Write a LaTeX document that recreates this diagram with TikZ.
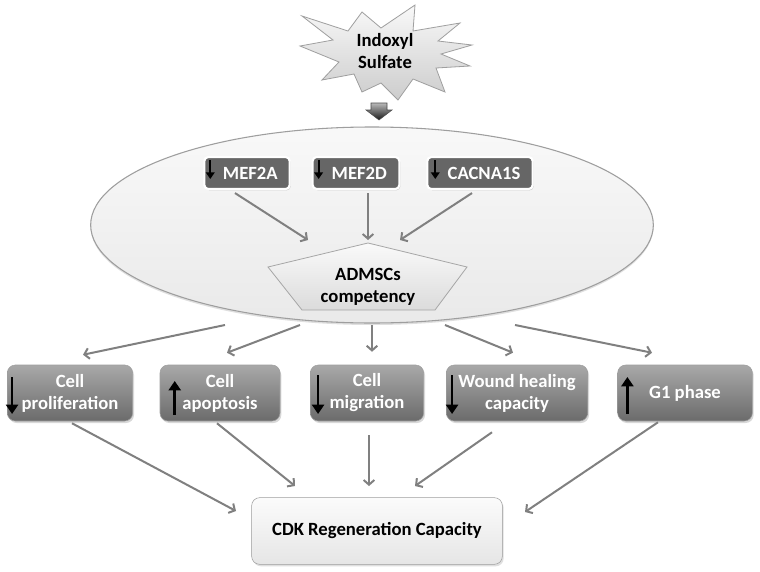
\documentclass[tikz,border=0pt]{standalone}
\usepackage{fontspec}
\setmainfont{Carlito}
\usepackage{tikz}
\usetikzlibrary{positioning}
\usetikzlibrary{arrows.meta}
\usetikzlibrary{shapes.geometric}
\usetikzlibrary{shadows}
\definecolor{arrowGray}{rgb}{0.50,0.50,0.50}
\definecolor{geneGray}{rgb}{0.40,0.40,0.40}
\definecolor{edgeGray}{rgb}{0.62,0.62,0.62}
\definecolor{boxTop}{rgb}{0.66,0.66,0.66}
\definecolor{boxBottom}{rgb}{0.42,0.42,0.42}
\begin{document}
\begin{tikzpicture}[x=0.75pt,y=-0.75pt]

            \tikzstyle{flowArrow} = [draw=arrowGray, line width=1.5pt, -{Straight Barb[length=3.5pt,width=8pt]}];
            \tikzstyle{markArrow} = [draw=black, line width=2pt, -{Triangle[length=7pt,width=9pt]}];
            \tikzstyle{smallMark} = [draw=black, line width=1.5pt, -{Triangle[length=5pt,width=6.5pt]}];
            \tikzstyle{labelFont} = [font=\bfseries\fontsize{14}{16.5}\selectfont];
            \tikzstyle{geneBox} = [labelFont, draw=white, line width=1.6pt, rounded corners=3pt, fill=geneGray, text=white, minimum height=24pt, inner xsep=2pt, drop shadow={opacity=0.35, shadow xshift=0.8pt, shadow yshift=-1pt}];
            \tikzstyle{outcomeBox} = [labelFont, draw=edgeGray, rounded corners=6pt, top color=boxTop, bottom color=boxBottom, text=white, align=center, minimum height=42pt, drop shadow={opacity=0.3, shadow xshift=1pt, shadow yshift=-1.5pt}];

            \path[fill=white] (0,0) rectangle (760,571);
            \useasboundingbox (0,0) rectangle (760,571);

            \path[draw=gray!75, line width=0.6pt, top color=gray!5, bottom color=gray!40]
              (302,16) -- (348,31) -- (362,12) -- (381,28) -- (415,5) -- (413,31)
              -- (460,23) -- (438,41) -- (472,45) -- (441,54) -- (470,66) -- (436,68)
              -- (445,92) -- (413,79) -- (398,100) -- (381,83) -- (362,92) -- (354,74)
              -- (322,80) -- (339,62) -- (300,46) -- (333,40) -- cycle;
            \node[labelFont, align=center] (indoxyl) at (385,51) {Indoxyl\\Sulfate};

            \path[draw=gray!60!black, line width=0.4pt, top color=gray!55, bottom color=gray!20!black]
              (371,103) -- (387,103) -- (387,110) -- (392,110) -- (379,120) -- (366,110) -- (371,110) -- cycle;

            \node[ellipse, draw=edgeGray, line width=0.8pt, top color=gray!5, bottom color=gray!17,
              minimum width=422pt, minimum height=147pt, drop shadow={opacity=0.25, shadow xshift=0pt, shadow yshift=-1.5pt}] (cellEllipse) at (372,225) {};

            \node[geneBox, minimum width=64pt] (mef2a) at (247,173) {\hspace*{5pt}MEF2A};
            \node[geneBox, minimum width=65pt] (mef2d) at (356,173) {\hspace*{5pt}MEF2D};
            \node[geneBox, minimum width=79pt] (cacna) at (480,173) {\hspace*{6pt}CACNA1S};

            \draw[smallMark] ([shift={(7,-13)}]mef2a.west) -- ([shift={(7,6)}]mef2a.west);
            \draw[smallMark] ([shift={(7,-13)}]mef2d.west) -- ([shift={(7,6)}]mef2d.west);
            \draw[smallMark] ([shift={(9,-13)}]cacna.west) -- ([shift={(9,6)}]cacna.west);

            \path[draw=gray!70, line width=0.6pt, top color=gray!4, bottom color=gray!28]
              (368,243) -- (467,267) -- (435,310) -- (302,310) -- (268,267) -- cycle;
            \node[labelFont, align=center] (admsc) at (368,287) {ADMSCs\\competency};

            \coordinate (admscInA) at (308,240);
            \coordinate (admscInB) at (368,240);
            \coordinate (admscInC) at (400,240);
            \draw[flowArrow] ([shift={(-12,3)}]mef2a.south) -- (admscInA);
            \draw[flowArrow] ([shift={(12,3)}]mef2d.south) -- (admscInB);
            \draw[flowArrow] ([shift={(-8,3)}]cacna.south) -- (admscInC);

            \node[outcomeBox, minimum width=94pt] (prolif) at (70,393) {Cell\\proliferation};
            \node[outcomeBox, minimum width=90pt] (apopt) at (220,393) {Cell\\apoptosis};
            \node[outcomeBox, minimum width=85pt] (migr) at (367,393) {Cell\\migration};
            \node[outcomeBox, minimum width=106pt] (wound) at (517,393) {Wound healing\\capacity};
            \node[outcomeBox, minimum width=101pt] (gphase) at (685,393) {G1 phase};

            \draw[markArrow] ([shift={(5,-16)}]prolif.west) -- ([shift={(5,21)}]prolif.west);
            \draw[markArrow] ([shift={(15,22)}]apopt.west) -- ([shift={(15,-12)}]apopt.west);
            \draw[markArrow] ([shift={(8,-18)}]migr.west) -- ([shift={(8,21)}]migr.west);
            \draw[markArrow] ([shift={(6,-18)}]wound.west) -- ([shift={(6,21)}]wound.west);
            \draw[markArrow] ([shift={(10,21)}]gphase.west) -- ([shift={(10,-16)}]gphase.west);

            \coordinate (outA) at (225,325);
            \coordinate (outB) at (300,325);
            \coordinate (outC) at (372,325);
            \coordinate (outD) at (445,325);
            \coordinate (outE) at (515,325);
            \draw[flowArrow] (outA) -- ([shift={(13,-10)}]prolif.north);
            \draw[flowArrow] (outB) -- ([shift={(7,-12)}]apopt.north);
            \draw[flowArrow] (outC) -- ([shift={(5,-13)}]migr.north);
            \draw[flowArrow] (outD) -- ([shift={(-4,-12)}]wound.north);
            \draw[flowArrow] (outE) -- ([shift={(-33,-12)}]gphase.north);

            \node[labelFont, draw=edgeGray, rounded corners=6pt, top color=gray!3, bottom color=gray!20,
              minimum width=188pt, minimum height=50pt, drop shadow={opacity=0.25, shadow xshift=1pt, shadow yshift=-1.5pt}] (cdk) at (377,531) {CDK Regeneration Capacity};

            \coordinate (cdkInA) at (236,511);
            \coordinate (cdkInB) at (295,486);
            \coordinate (cdkInC) at (369,486);
            \coordinate (cdkInD) at (415,486);
            \coordinate (cdkInE) at (525,512);
            \draw[flowArrow] ([shift={(2,2)}]prolif.south) -- (cdkInA);
            \draw[flowArrow] ([shift={(-3,2)}]apopt.south) -- (cdkInB);
            \draw[flowArrow] ([shift={(2,14)}]migr.south) -- (cdkInC);
            \draw[flowArrow] ([shift={(-25,11)}]wound.south) -- (cdkInD);
            \draw[flowArrow] ([shift={(-27,1)}]gphase.south) -- (cdkInE);
          \end{tikzpicture}
\end{document}
